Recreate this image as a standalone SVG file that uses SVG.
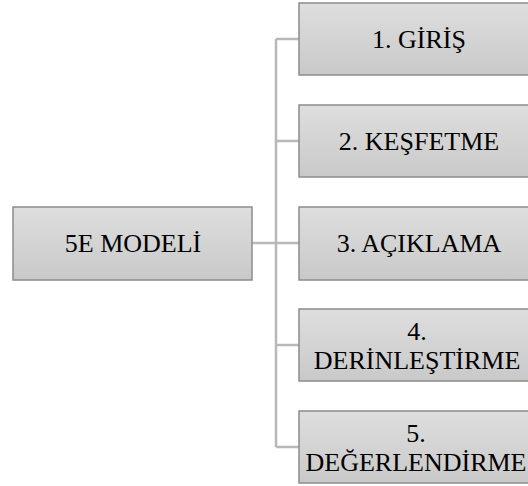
<svg xmlns="http://www.w3.org/2000/svg" width="528" height="486" viewBox="0 0 528 486">
<defs>
<linearGradient id="g" x1="0" y1="0" x2="0" y2="1">
<stop offset="0" stop-color="#dedede"/>
<stop offset="1" stop-color="#c9c9c9"/>
</linearGradient>
</defs>
<style>
.box{fill:url(#g);stroke:#8c8c8c;stroke-width:1.5}
.t{font-family:"Liberation Serif","Times New Roman",serif;font-size:26px;fill:#000;text-anchor:middle}
.c{fill:none;stroke:#b8b8b8;stroke-width:2.5}
</style>
<rect width="528" height="486" fill="#fff"/>
<g id="connectors">
<path class="c" d="M252 243H276M276 39V447M276 39H299M276 141H299M276 243H299M276 345H299M276 447H299"/>
</g>
<g id="n0"><rect class="box" x="13" y="207" width="239" height="73"/><text class="t" x="133" y="252">5E MODELİ</text></g>
<g id="n1"><rect class="box" x="299" y="3" width="240" height="72"/><text class="t" x="419" y="47.5">1. GİRİŞ</text></g>
<g id="n2"><rect class="box" x="299" y="105" width="240" height="72"/><text class="t" x="419" y="149.5">2. KEŞFETME</text></g>
<g id="n3"><rect class="box" x="299" y="207" width="240" height="73"/><text class="t" x="419" y="252">3. AÇIKLAMA</text></g>
<g id="n4"><rect class="box" x="299" y="309" width="240" height="72"/><text class="t" x="417" y="339.5">4.</text><text class="t" x="417" y="368.5">DERİNLEŞTİRME</text></g>
<g id="n5"><rect class="box" x="299" y="411" width="240" height="72"/><text class="t" x="416" y="441.5">5.</text><text class="t" x="416" y="470.5">DEĞERLENDİRME</text></g>
</svg>
